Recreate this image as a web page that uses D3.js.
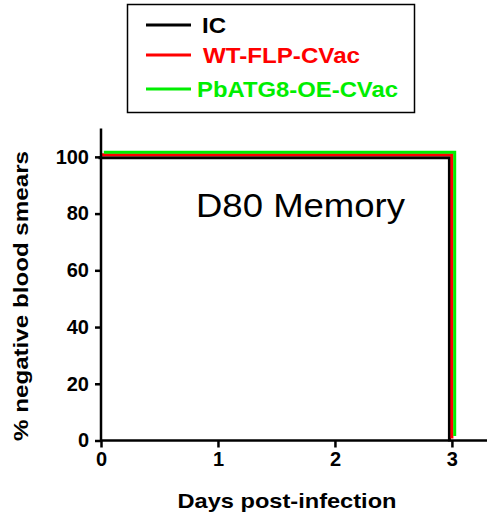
<!DOCTYPE html>
<html><head><meta charset="utf-8">
<script src="https://cdn.jsdelivr.net/npm/d3@7"></script>
<style>html,body{margin:0;padding:0;background:#fff}svg{display:block}</style>
</head><body>
<svg id="c" width="488" height="519"></svg>
<script>
const seriesNames = ["IC", "WT-FLP-CVac", "PbATG8-OE-CVac"];
const days = [0, 3, 3];
const icValues = [100, 100, 0];
const wtValues = [100, 100, 0];
const pbValues = [100, 100, 0];
const xTicks = [0, 1, 2, 3];
const yTicks = [0, 20, 40, 60, 80, 100];

const colors = ["#000000", "#ff0000", "#00ee00"];
const offsets = [[-2.5, 1], [0, -2], [2.8, -4.5]];
const allValues = [icValues, wtValues, pbValues];

const svg = d3.select("#c");
const x = d3.scaleLinear().domain([0, 3.3]).range([101, 487]);
const y = d3.scaleLinear().domain([0, 110]).range([440.5, 128.5]);
const font = "Arial, 'Liberation Sans', sans-serif";

const line = d3.line().x(d => x(d[0])).y(d => y(d[1]));
[0, 1, 2].forEach(i => {
  const pts = days.map((d, j) => [d, allValues[i][j]]);
  svg.append("path")
    .attr("d", line(pts))
    .attr("transform", `translate(${offsets[i][0]},${offsets[i][1]})`)
    .attr("fill", "none").attr("stroke", colors[i]).attr("stroke-width", 3);
});

const xAxis = svg.append("g").attr("transform", `translate(0,${y(0)})`)
  .call(d3.axisBottom(x).tickValues(xTicks).tickFormat(d3.format("d")).tickSize(7).tickPadding(4));
const yAxis = svg.append("g").attr("transform", `translate(${x(0)},0)`)
  .call(d3.axisLeft(y).tickValues(yTicks).tickSize(6).tickPadding(6));
[xAxis, yAxis].forEach(g => {
  g.select(".domain").attr("stroke", "#000").attr("stroke-width", 2.5);
  g.selectAll(".tick line").attr("stroke", "#000").attr("stroke-width", 2.5);
  g.selectAll("text").attr("fill", "#000").style("font-family", font)
    .style("font-weight", "bold").style("font-size", "20px");
});
xAxis.select(".domain").attr("d", `M${x(0)},0H${x(3.3)}`);
yAxis.select(".domain").attr("d", `M0,${y(0)}V${y(110)}`);

svg.append("text").attr("x", 287).attr("y", 508).attr("text-anchor", "middle")
  .style("font-family", font).style("font-weight", "bold").style("font-size", "21px")
  .attr("textLength", 219).attr("lengthAdjust", "spacingAndGlyphs")
  .text("Days post-infection");
svg.append("text").attr("transform", "translate(28,296) rotate(-90)").attr("text-anchor", "middle")
  .style("font-family", font).style("font-weight", "bold").style("font-size", "21px")
  .attr("textLength", 290).attr("lengthAdjust", "spacingAndGlyphs")
  .text("% negative blood smears");

svg.append("text").attr("x", 196).attr("y", 217)
  .style("font-family", font).style("font-size", "33px")
  .attr("textLength", 209).attr("lengthAdjust", "spacingAndGlyphs")
  .text("D80 Memory");

svg.append("rect").attr("x", 127.5).attr("y", 4.5).attr("width", 287).attr("height", 108)
  .attr("fill", "none").attr("stroke", "#000").attr("stroke-width", 1.5);
const legY = [25, 55, 89];
const legTextX = [202, 203, 197];
const legW = [24, 157, 201];
seriesNames.forEach((n, i) => {
  svg.append("line").attr("x1", 146).attr("x2", 191).attr("y1", legY[i]).attr("y2", legY[i])
    .attr("stroke", colors[i]).attr("stroke-width", 3);
  svg.append("text").attr("x", legTextX[i]).attr("y", legY[i] + 8)
    .style("font-family", font).style("font-weight", "bold").style("font-size", "22px")
    .attr("textLength", legW[i]).attr("lengthAdjust", "spacingAndGlyphs")
    .attr("fill", colors[i])
    .text(n);
});
</script>
</body></html>
